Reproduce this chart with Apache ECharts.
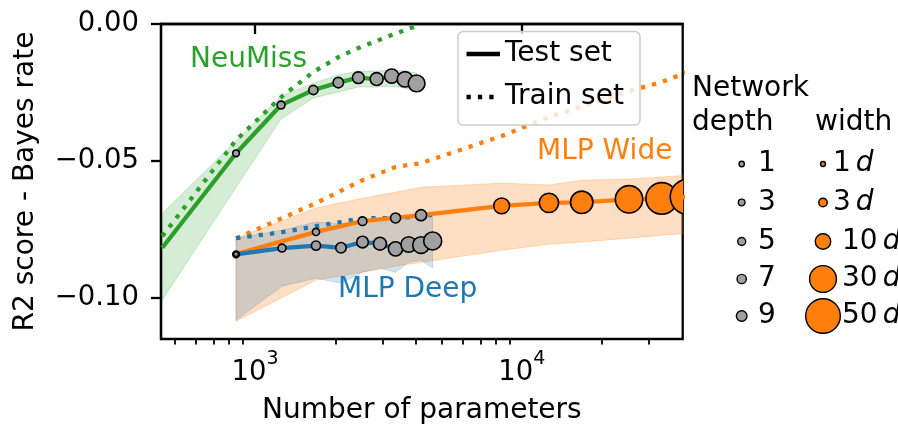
<!DOCTYPE html>
<html><head><meta charset="utf-8">
<script src="https://cdn.jsdelivr.net/npm/echarts@6/dist/echarts.min.js"></script>
<style>html,body{margin:0;padding:0;background:#fff}#c{width:898px;height:428px}</style>
</head><body><div id="c"></div>
<script>
// ---------- data ----------
const neuParams = [449, 849, 1252, 1655, 2053, 2440, 2858, 3254, 3651, 4036];
const neuDepth  = [0, 1, 2, 3, 4, 5, 6, 7, 8, 9];
const neuTest   = [-0.0817, -0.0472, -0.0296, -0.0241, -0.0214, -0.0196, -0.0201, -0.0190, -0.0202, -0.0217];
const neuTrain  = [-0.0775, -0.0424, -0.0267, -0.0175, -0.0121, -0.0088, -0.0062, -0.0040, -0.0022, -0.0007];
const neuUpper  = [-0.0691, -0.0427, -0.0263, -0.0216, -0.0186, -0.0172, -0.0172, -0.0168, -0.0172, -0.0179];
const neuLower  = [-0.1008, -0.0596, -0.0347, -0.0270, -0.0248, -0.0230, -0.0230, -0.0227, -0.0234, -0.0248];

const deepParams = [849, 1263, 1693, 2101, 2530, 2941, 3365, 3770, 4193, 4637];
const deepDepth  = [1, 2, 3, 4, 5, 6, 7, 8, 9, 10];
const deepTest   = [-0.0841, -0.0818, -0.0809, -0.0817, -0.0796, -0.0802, -0.0821, -0.0805, -0.0807, -0.0792];
const deepTrain  = [-0.0782, -0.0760, -0.0738, -0.0723, -0.0709, -0.0709, -0.0709, -0.0705, -0.0698, -0.0698];
const deepUpper  = [-0.0782, -0.0753, -0.0723, -0.0731, -0.0716, -0.0723, -0.0720, -0.0709, -0.0701, -0.0709];
const deepLower  = [-0.1081, -0.0957, -0.0928, -0.0946, -0.0906, -0.0891, -0.0906, -0.0870, -0.0862, -0.0891];

const wideParams = [849, 1693, 2530, 3365, 4193, 8410, 12650, 16790, 25260, 33500, 42000];
const wideWidth  = [1, 2, 3, 4, 5, 10, 15, 20, 30, 40, 50];
const wideTest   = [-0.0840, -0.0759, -0.0720, -0.0708, -0.0698, -0.0664, -0.0653, -0.0651, -0.0640, -0.0637, -0.0631];
const wideTrain  = [-0.0783, -0.0654, -0.0570, -0.0522, -0.0508, -0.0409, -0.0340, -0.0300, -0.0245, -0.0212, -0.0175];
const wideUpper  = [-0.0782, -0.0672, -0.0636, -0.0614, -0.0596, -0.0581, -0.0588, -0.0570, -0.0566, -0.0559, -0.0552];
const wideLower  = [-0.1085, -0.0935, -0.0906, -0.0884, -0.0870, -0.0826, -0.0804, -0.0796, -0.0782, -0.0771, -0.0764];

const xMajorTicks = [1000, 10000];
const xMinorTicks = [500, 600, 700, 800, 900, 2000, 3000, 4000, 5000, 6000, 7000, 8000, 9000, 20000, 30000];
const yTicks = [-0.10, -0.05, 0.00];
const legendDepths = [1, 3, 5, 7, 9];
const legendWidths = [1, 3, 10, 30, 50];

// ---------- style ----------
const FONT = 'DejaVu Sans';
const GREEN = '#2ca02c', ORANGE = '#ff7f0e', BLUE = '#1f77b4', GREY = '#a0a0a0';
const LW = 4.3, DOT = [4.3, 7.1];
const L10 = Math.log10;
const depthR = d => 2.7 + 0.63 * d;
const widthR = w => 2.5 * Math.sqrt(w);
const wideColor = w => (w < 10 ? GREY : ORANGE);

function pts(xs, ys) { return xs.map((x, i) => [L10(x), ys[i]]); }
function lineSeries(xs, ys, color, dotted, z) {
  return { type: 'line', data: pts(xs, ys), showSymbol: false, silent: true, clip: true, z: z,
    lineStyle: { color: color, width: LW, type: dotted ? DOT : 'solid', cap: 'butt', join: 'round' } };
}
function bandSeries(xs, lo, hi, color, z) {
  return { type: 'custom', clip: true, silent: true, z: z,
    data: xs.map((x, i) => [L10(x), lo[i], hi[i]]),
    encode: { x: 0, y: [1, 2] },
    renderItem: function (params, api) {
      if (params.dataIndexInside !== 0) return null;
      const n = params.dataInsideLength, top = [], bot = [];
      for (let j = 0; j < n; j++) {
        top.push(api.coord([api.value(0, j), api.value(2, j)]));
        bot.push(api.coord([api.value(0, j), api.value(1, j)]));
      }
      return { type: 'polygon', shape: { points: top.concat(bot.reverse()) },
        style: { fill: color, stroke: color, lineWidth: 1 } };
    } };
}
function markerSeries(xs, ys, sizes, colorFn, rFn, z) {
  return { type: 'custom', clip: true, silent: true, z: z,
    data: xs.map((x, i) => [L10(x), ys[i], sizes[i]]),
    encode: { x: 0, y: 1 },
    renderItem: function (params, api) {
      const s = api.value(2);
      if (!(s > 0)) return null;
      const p = api.coord([api.value(0), api.value(1)]);
      return { type: 'circle', shape: { cx: p[0], cy: p[1], r: rFn(s) },
        style: { fill: colorFn(s), stroke: '#000', lineWidth: 1.6 } };
    } };
}

const chart = echarts.init(document.getElementById('c'), null, { renderer: 'canvas' });

const graphics = [];
graphics.push({ type: 'rect', shape: { x: 458, y: 31.5, width: 182, height: 93.5, r: 5 },
  style: { fill: 'rgba(255,255,255,0.8)', stroke: '#cccccc', lineWidth: 1.5 }, z: 100 });
graphics.push({ type: 'line', shape: { x1: 466.5, y1: 54, x2: 500, y2: 54 }, style: { stroke: '#000', lineWidth: LW }, z: 101 });
graphics.push({ type: 'line', shape: { x1: 466.5, y1: 97, x2: 500, y2: 97 }, style: { stroke: '#000', lineWidth: LW, lineDash: DOT }, z: 101 });
graphics.push({ type: 'text', x: 505, y: 54, style: { text: 'Test set', font: '28px ' + FONT, fill: '#000', verticalAlign: 'middle' }, z: 101 });
graphics.push({ type: 'text', x: 505, y: 97, style: { text: 'Train set', font: '28px ' + FONT, fill: '#000', verticalAlign: 'middle' }, z: 101 });
graphics.push({ type: 'text', x: 190, y: 60, style: { text: 'NeuMiss', font: '28px ' + FONT, fill: GREEN, verticalAlign: 'middle' }, z: 90 });
graphics.push({ type: 'text', x: 537, y: 152, style: { text: 'MLP Wide', font: '28px ' + FONT, fill: ORANGE, verticalAlign: 'middle' }, z: 90 });
graphics.push({ type: 'text', x: 338, y: 290, style: { text: 'MLP Deep', font: '28px ' + FONT, fill: BLUE, verticalAlign: 'middle' }, z: 90 });
graphics.push({ type: 'text', x: 692, y: 89, style: { text: 'Network', font: '28px ' + FONT, fill: '#000', verticalAlign: 'middle' } });
graphics.push({ type: 'text', x: 692, y: 123, style: { text: 'depth', font: '28px ' + FONT, fill: '#000', verticalAlign: 'middle' } });
graphics.push({ type: 'text', x: 815, y: 123, style: { text: 'width', font: '28px ' + FONT, fill: '#000', verticalAlign: 'middle' } });
const rowY = [164, 202.5, 241.5, 279, 316];
legendDepths.forEach((d, i) => {
  graphics.push({ type: 'circle', shape: { cx: 741.7, cy: rowY[i], r: 2.35 + 0.33 * d }, style: { fill: GREY, stroke: '#000', lineWidth: 1.4 } });
  graphics.push({ type: 'text', x: 758, y: rowY[i], style: { text: String(d), font: '28px ' + FONT, fill: '#000', verticalAlign: 'middle' } });
});
legendWidths.forEach((w, i) => {
  graphics.push({ type: 'circle', shape: { cx: 823, cy: rowY[i], r: widthR(w) * 0.98 }, style: { fill: ORANGE, stroke: '#000', lineWidth: 1.4 } });
  graphics.push({ type: 'text', x: w < 10 ? 833 : 842, y: rowY[i],
    style: { rich: { n: { font: '28px ' + FONT, fill: '#000' }, i: { font: 'italic 28px ' + FONT, fill: '#000', padding: [0, 0, 0, 5] } },
      text: '{n|' + w + '}{i|d}', verticalAlign: 'middle' } });
});

const option = {
  animation: false,
  backgroundColor: '#fff',
  grid: { left: 161, top: 24, width: 521.7, height: 315, containLabel: false, outerBoundsMode: 'none',
    show: true, borderColor: '#000', borderWidth: 2.3, backgroundColor: 'transparent' },
  xAxis: [
    { type: 'value', min: L10(444.1), max: L10(40150), position: 'bottom',
      name: 'Number of parameters', nameLocation: 'middle', nameGap: 58,
      nameTextStyle: { fontFamily: FONT, fontSize: 28, color: '#000' },
      axisLine: { show: true, lineStyle: { color: '#000', width: 2.3 } },
      splitLine: { show: false },
      axisTick: { show: true, length: 10, lineStyle: { color: '#000', width: 2.3 }, customValues: xMajorTicks.map(L10) },
      axisLabel: { show: true, margin: 11, customValues: xMajorTicks.map(L10), color: '#000',
        formatter: v => '{b|10}{s|' + Math.round(v) + '}',
        rich: { b: { fontFamily: FONT, fontSize: 27.5, color: '#000', padding: [9, 0, 0, 0] },
                s: { fontFamily: FONT, fontSize: 19, color: '#000', verticalAlign: 'top' } } } },
    { type: 'value', min: L10(444.1), max: L10(40150), position: 'bottom',
      axisLine: { show: false }, splitLine: { show: false }, axisLabel: { show: false },
      axisTick: { show: true, length: 5.5, lineStyle: { color: '#000', width: 1.8 }, customValues: xMinorTicks.map(L10) } }
  ],
  yAxis: {
    type: 'value', min: -0.115, max: 0,
    name: 'R2 score - Bayes rate', nameLocation: 'middle', nameGap: 121,
    nameTextStyle: { fontFamily: FONT, fontSize: 28, color: '#000' },
    axisLine: { show: true, lineStyle: { color: '#000', width: 2.3 } },
    splitLine: { show: false },
    axisTick: { show: true, length: 10, lineStyle: { color: '#000', width: 2.3 }, customValues: yTicks },
    axisLabel: { show: true, margin: 22, customValues: yTicks, fontFamily: FONT, fontSize: 27.5, color: '#000',
      formatter: v => (v < 0 ? '\u2212' : '') + Math.abs(v).toFixed(2) }
  },
  graphic: graphics,
  series: [
    bandSeries(neuParams, neuLower, neuUpper, 'rgba(44,160,44,0.2)', 1),
    bandSeries(wideParams, wideLower, wideUpper, 'rgba(255,127,14,0.25)', 1),
    bandSeries(deepParams, deepLower, deepUpper, 'rgba(31,119,180,0.2)', 1),
    lineSeries(neuParams, neuTrain, GREEN, true, 2),
    lineSeries(wideParams, wideTrain, ORANGE, true, 2),
    lineSeries(deepParams, deepTrain, BLUE, true, 2),
    lineSeries(neuParams, neuTest, GREEN, false, 3),
    lineSeries(wideParams, wideTest, ORANGE, false, 3),
    lineSeries(deepParams, deepTest, BLUE, false, 3),
    markerSeries(neuParams, neuTest, neuDepth, () => GREY, depthR, 4),
    markerSeries(deepParams, deepTest, deepDepth, () => GREY, depthR, 4),
    markerSeries(wideParams, wideTest, wideWidth, wideColor, widthR, 4)
  ]
};
chart.setOption(option);
</script></body></html>
